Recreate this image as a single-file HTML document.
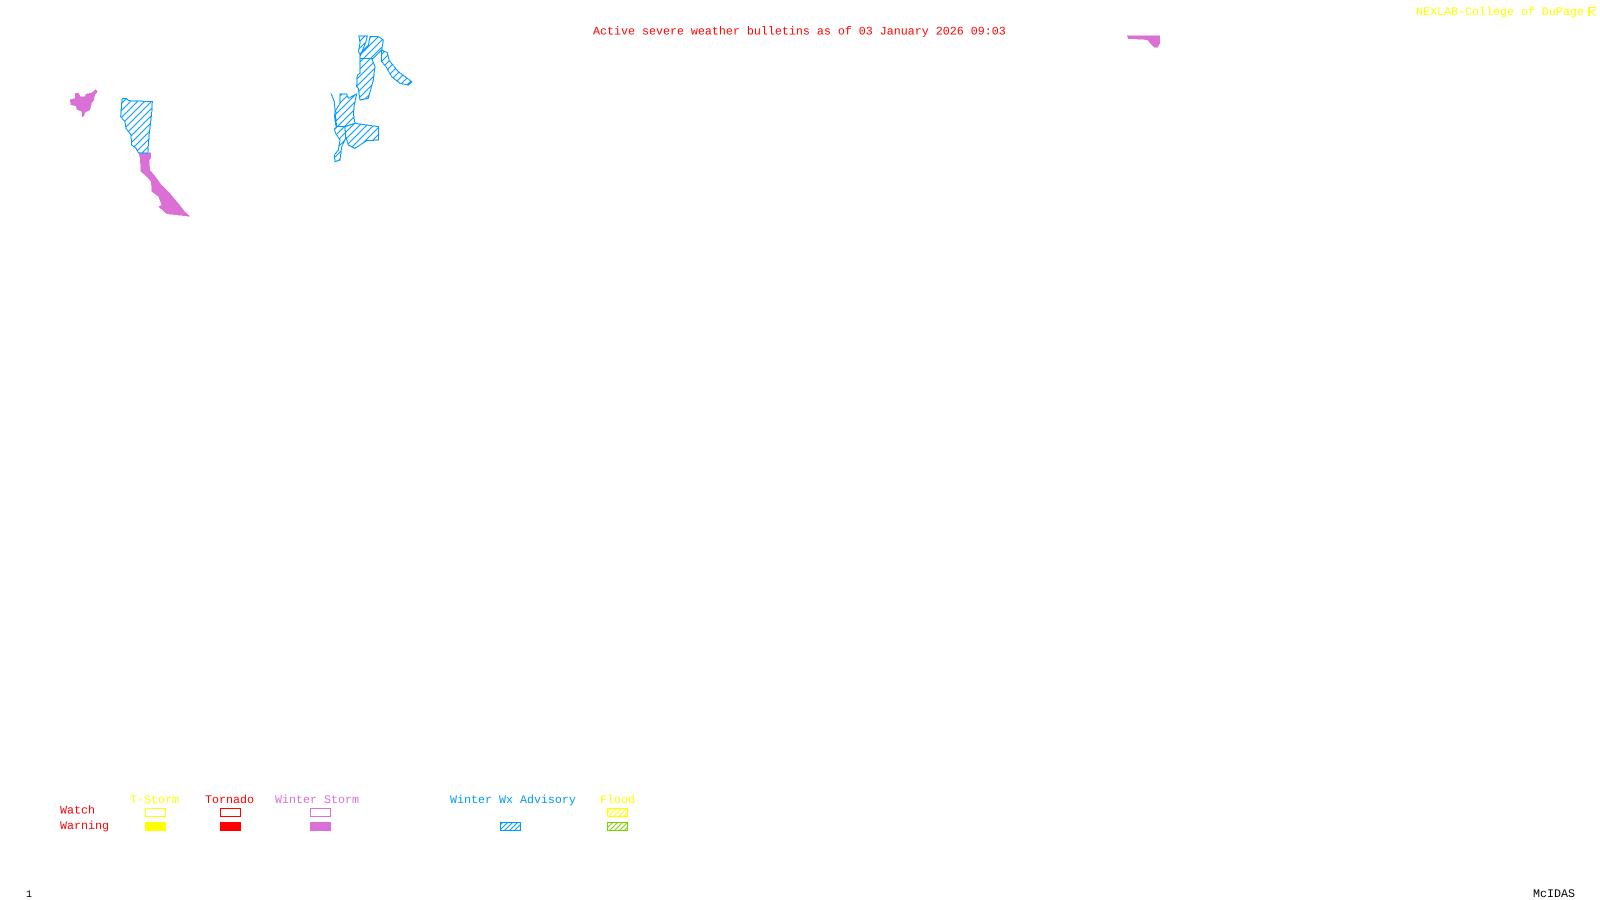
<!DOCTYPE html>
<html>
<head>
<meta charset="utf-8">
<title>Active severe weather bulletins</title>
<style>
html,body{margin:0;padding:0;background:#fff;width:1600px;height:900px;overflow:hidden}
svg{display:block}
text{font-family:"Liberation Mono","DejaVu Sans Mono",monospace;font-size:11.67px;text-rendering:geometricPrecision}
.j polygon,.j path{shape-rendering:crispEdges}
</style>
</head>
<body>
<svg width="1600" height="900" viewBox="0 0 1600 900" xmlns="http://www.w3.org/2000/svg">
<defs>
<pattern id="hz" width="21" height="21" patternUnits="userSpaceOnUse">
<path d="M-3,3 L3,-3 M0,21 L21,0 M18,24 L24,18" stroke="#0099ff" stroke-width="3" fill="none"/>
</pattern>
<pattern id="hb" width="5" height="5" patternUnits="userSpaceOnUse">
<path d="M-1,1 L1,-1 M0,5 L5,0 M4,6 L6,4" stroke="#0099ff" stroke-width="1" fill="none"/>
</pattern>
<pattern id="hy" width="5" height="5" patternUnits="userSpaceOnUse">
<path d="M-1,1 L1,-1 M0,5 L5,0 M4,6 L6,4" stroke="#ffff00" stroke-width="1" fill="none"/>
</pattern>
<pattern id="hg" width="5" height="5" patternUnits="userSpaceOnUse">
<path d="M-1,1 L1,-1 M0,5 L5,0 M4,6 L6,4" stroke="#7fd000" stroke-width="1" fill="none"/>
</pattern>
</defs>
<rect width="1600" height="900" fill="#fff"/>

<g class="j" transform="translate(50 70) scale(.33333)">
<polygon fill="#da70d6" points="60,90 62,88 75,85 75,70 85,68 92,80 105,80 107,72 125,68 137,58 143,65 135,75 132,90 125,100 120,120 105,128 103,137 97,143 95,125 80,118 78,108 62,105"/>
<polygon fill="#da70d6" points="265,247 303,247 303,265 298,270 300,300 315,318 335,345 360,370 385,400 405,425 422,440 350,432 325,410 335,405 325,380 305,365 303,335 285,315 272,305 270,265"/>
<polygon fill="url(#hz)" stroke="#0099ff" stroke-width="3" points="217,85 230,85 235,92 307,95 305,130 298,190 293,250 265,248 258,235 245,225 243,195 228,175 225,155 212,140 215,100"/>
</g>

<g class="j" transform="translate(350 30) scale(.33333)" fill="url(#hz)" stroke="#0099ff" stroke-width="3">
<polygon points="27,18 52,18 48,35 32,75 25,65 30,40"/>
<polygon points="60,20 85,20 100,30 95,60 70,85 30,85 30,72 55,45"/>
<polygon points="95,60 112,68 118,92 145,125 185,155 175,165 150,160 125,140 108,110 95,95"/>
<polygon points="30,85 65,85 75,110 70,150 55,205 30,210 25,175 20,170 22,135 30,130"/>
</g>

<g class="j" transform="translate(325 90) scale(.33333)" fill="url(#hz)" stroke="#0099ff" stroke-width="3">
<polygon points="45,12 65,12 70,25 95,12 88,45 85,70 90,100 60,110 35,110 30,65 45,40"/>
<polygon points="90,100 160,110 160,150 125,152 90,175 70,165 62,140 60,110"/>
<polygon points="35,110 60,110 62,145 50,170 45,210 30,215 28,195 40,180 45,150 32,130 28,118"/>
<path fill="none" d="M18,10 L28,35 L30,60 L35,70 L28,75 L33,110"/>
</g>

<g class="j" transform="translate(1090 0) scale(.33333)">
<polygon fill="#da70d6" points="111,107 210,107 210,130 203,143 193,143 185,135 172,120 150,118 115,117"/>
</g>

<text x="593" y="34.500" fill="#ff0000">Active severe weather bulletins as of 03 January 2026 09:03</text>
<text x="1416" y="15" fill="#ffff00">NEXLAB-College of DuPage</text>
<path d="M1588.500,16 V7.500 H1596 M1589.500,8 V16 M1595.500,9 L1591,12 L1595.500,16" stroke="#ffff00" stroke-width="1" fill="none" shape-rendering="crispEdges"/>

<text x="130" y="803" fill="#ffff00">T-Storm</text>
<text x="205" y="803" fill="#ff0000">Tornado</text>
<text x="275" y="803" fill="#da70d6">Winter Storm</text>
<text x="450" y="803" fill="#0099ff">Winter Wx Advisory</text>
<text x="600" y="803" fill="#ffff00">Flood</text>
<text x="60" y="813.500" fill="#ff0000">Watch</text>
<text x="60" y="829" fill="#ff0000">Warning</text>

<rect x="145.500" y="808.500" width="20" height="8" fill="none" stroke="#ffff00"/>
<rect x="220.500" y="808.500" width="20" height="8" fill="none" stroke="#ff0000"/>
<rect x="310.500" y="808.500" width="20" height="8" fill="none" stroke="#da70d6"/>
<rect x="607.500" y="808.500" width="20" height="8" fill="url(#hy)" stroke="#ffff00"/>

<rect x="145" y="822" width="21" height="9" fill="#ffff00"/>
<rect x="220" y="822" width="21" height="9" fill="#ff0000"/>
<rect x="310" y="822" width="21" height="9" fill="#da70d6"/>
<rect x="500.500" y="822.500" width="20" height="8" fill="url(#hb)" stroke="#0099ff"/>
<rect x="607.500" y="822.500" width="20" height="8" fill="url(#hg)" stroke="#7fd000"/>

<text x="26" y="897" fill="#000" style="font-size:10px">1</text>
<text x="1533" y="897" fill="#000">McIDAS</text>
</svg>
</body>
</html>
